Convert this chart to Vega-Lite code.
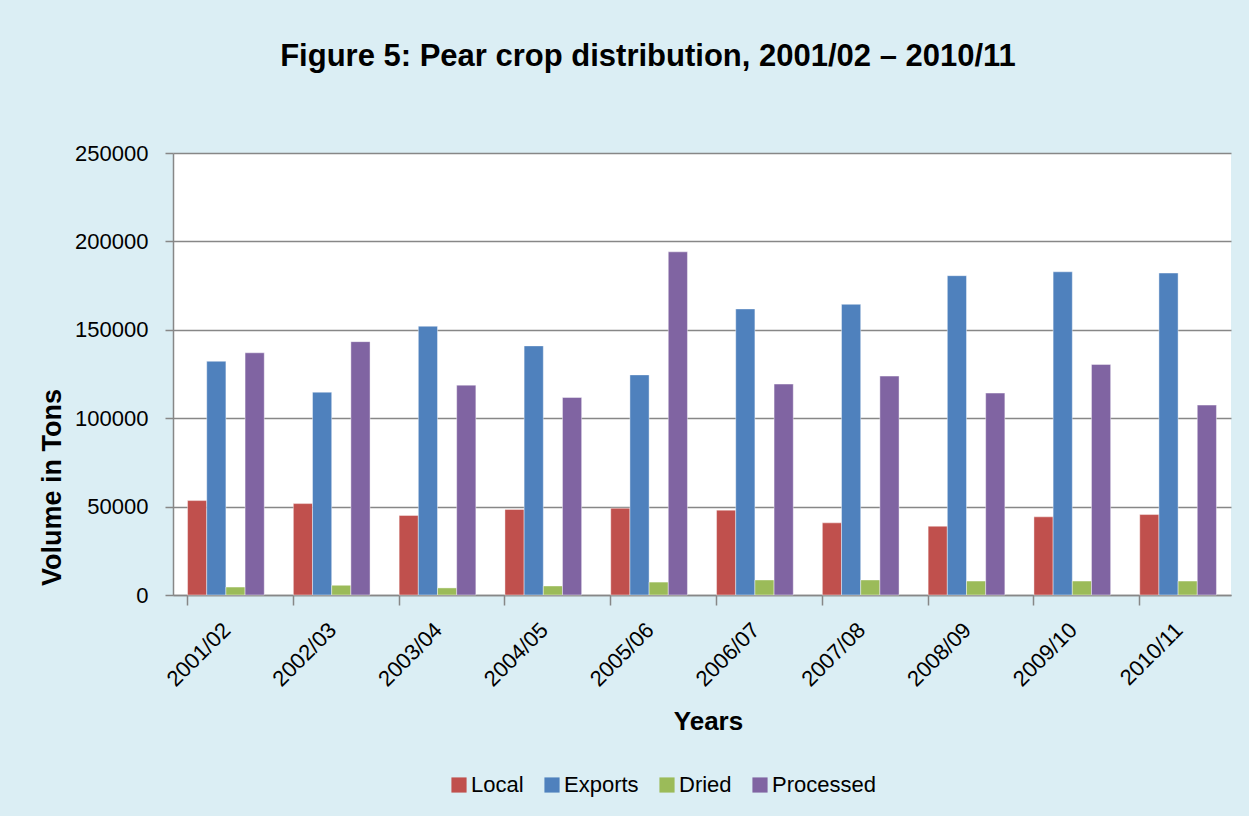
{
  "$schema": "https://vega.github.io/schema/vega-lite/v6.json",
  "width": 1058,
  "height": 442,
  "autosize": {"type": "none"},
  "padding": {"left": 173, "top": 153, "right": 18, "bottom": 221},
  "background": "#DBEEF4",
  "title": {
    "text": "Figure 5: Pear crop distribution, 2001/02 – 2010/11",
    "font": "Liberation Sans",
    "fontSize": 31,
    "fontWeight": "bold",
    "color": "#000000",
    "anchor": "middle",
    "frame": "group",
    "baseline": "alphabetic",
    "dx": -54,
    "dy": 165,
    "offset": 0
  },
  "data": {
    "values": [
      {"year": "2001/02", "type": "Local", "value": 53400},
      {"year": "2001/02", "type": "Exports", "value": 132200},
      {"year": "2001/02", "type": "Dried", "value": 4500},
      {"year": "2001/02", "type": "Processed", "value": 137000},
      {"year": "2002/03", "type": "Local", "value": 51700},
      {"year": "2002/03", "type": "Exports", "value": 114700},
      {"year": "2002/03", "type": "Dried", "value": 5500},
      {"year": "2002/03", "type": "Processed", "value": 143300},
      {"year": "2003/04", "type": "Local", "value": 45000},
      {"year": "2003/04", "type": "Exports", "value": 152000},
      {"year": "2003/04", "type": "Dried", "value": 4000},
      {"year": "2003/04", "type": "Processed", "value": 118700},
      {"year": "2004/05", "type": "Local", "value": 48400},
      {"year": "2004/05", "type": "Exports", "value": 140900},
      {"year": "2004/05", "type": "Dried", "value": 5100},
      {"year": "2004/05", "type": "Processed", "value": 111700},
      {"year": "2005/06", "type": "Local", "value": 49100},
      {"year": "2005/06", "type": "Exports", "value": 124500},
      {"year": "2005/06", "type": "Dried", "value": 7300},
      {"year": "2005/06", "type": "Processed", "value": 194100},
      {"year": "2006/07", "type": "Local", "value": 48000},
      {"year": "2006/07", "type": "Exports", "value": 161800},
      {"year": "2006/07", "type": "Dried", "value": 8500},
      {"year": "2006/07", "type": "Processed", "value": 119300},
      {"year": "2007/08", "type": "Local", "value": 40800},
      {"year": "2007/08", "type": "Exports", "value": 164400},
      {"year": "2007/08", "type": "Dried", "value": 8500},
      {"year": "2007/08", "type": "Processed", "value": 123800},
      {"year": "2008/09", "type": "Local", "value": 38900},
      {"year": "2008/09", "type": "Exports", "value": 180600},
      {"year": "2008/09", "type": "Dried", "value": 7900},
      {"year": "2008/09", "type": "Processed", "value": 114200},
      {"year": "2009/10", "type": "Local", "value": 44200},
      {"year": "2009/10", "type": "Exports", "value": 182800},
      {"year": "2009/10", "type": "Dried", "value": 7900},
      {"year": "2009/10", "type": "Processed", "value": 130400},
      {"year": "2010/11", "type": "Local", "value": 45500},
      {"year": "2010/11", "type": "Exports", "value": 182100},
      {"year": "2010/11", "type": "Dried", "value": 7900},
      {"year": "2010/11", "type": "Processed", "value": 107400}
    ]
  },
  "layer": [
    {
      "mark": {"type": "bar", "stroke": "#ffffff", "strokeWidth": 0.7, "strokeOpacity": 0.6},
      "encoding": {
        "x": {
          "field": "year",
          "type": "nominal",
          "scale": {"paddingInner": 0.275, "paddingOuter": 0.1375},
          "axis": {
            "orient": "bottom",
            "title": "Years",
            "titleFont": "Liberation Sans",
            "titleFontSize": 26,
            "titleFontWeight": "bold",
            "titleColor": "#000000",
            "titleX": 535,
            "titleY": 126,
            "titleBaseline": "middle",
            "labelAngle": -45,
            "labelFont": "Liberation Sans",
            "labelFontSize": 22,
            "labelColor": "#000000",
            "labelPadding": 24,
            "labelOffset": -6,
            "ticks": false,
            "domain": false,
            "grid": false
          }
        },
        "xOffset": {
          "field": "type",
          "type": "nominal",
          "sort": ["Local", "Exports", "Dried", "Processed"],
          "scale": {"paddingInner": 0, "paddingOuter": 0}
        },
        "y": {
          "field": "value",
          "type": "quantitative",
          "scale": {"domain": [0, 250000], "nice": false},
          "axis": {
            "title": "Volume in Tons",
            "titleFont": "Liberation Sans",
            "titleFontSize": 27,
            "titleFontWeight": "bold",
            "titleColor": "#000000",
            "titleAngle": -90,
            "titleX": -121,
            "titleY": 334,
            "titleAlign": "center",
            "titleBaseline": "middle",
            "values": [0, 50000, 100000, 150000, 200000, 250000],
            "format": "d",
            "labelFont": "Liberation Sans",
            "labelFontSize": 22,
            "labelColor": "#000000",
            "labelPadding": 17,
            "tickSize": 8,
            "tickColor": "#878787",
            "tickWidth": 1.5,
            "domainColor": "#878787",
            "domainWidth": 1.5,
            "grid": true,
            "gridColor": "#878787",
            "gridWidth": 1.5
          }
        },
        "color": {
          "field": "type",
          "type": "nominal",
          "sort": ["Local", "Exports", "Dried", "Processed"],
          "scale": {
            "domain": ["Local", "Exports", "Dried", "Processed"],
            "range": ["#C0504D", "#4F81BD", "#9BBB59", "#8064A2"]
          },
          "legend": {
            "title": null,
            "orient": "none",
            "direction": "horizontal",
            "legendX": 275,
            "legendY": 621,
            "symbolType": "square",
            "symbolSize": 230,
            "symbolStrokeWidth": 0,
            "labelFont": "Liberation Sans",
            "labelFontSize": 22,
            "labelColor": "#000000",
            "labelOffset": 1,
            "columnPadding": 17
          }
        }
      }
    },
    {
      "mark": {"type": "bar", "opacity": 0},
      "encoding": {
        "x": {
          "field": "year",
          "type": "nominal",
          "axis": {
            "orient": "bottom",
            "title": null,
            "labels": false,
            "ticks": true,
            "bandPosition": 0,
            "tickSize": 10,
            "tickColor": "#878787",
            "tickWidth": 1.5,
            "domain": true,
            "domainColor": "#878787",
            "domainWidth": 1.5,
            "grid": false
          }
        },
        "y": {
          "field": "value",
          "type": "quantitative",
          "scale": {"domain": [0, 250000], "nice": false}
        }
      }
    }
  ],
  "resolve": {"axis": {"x": "independent"}},
  "config": {
    "view": {"fill": "#ffffff", "stroke": null}
  }
}
